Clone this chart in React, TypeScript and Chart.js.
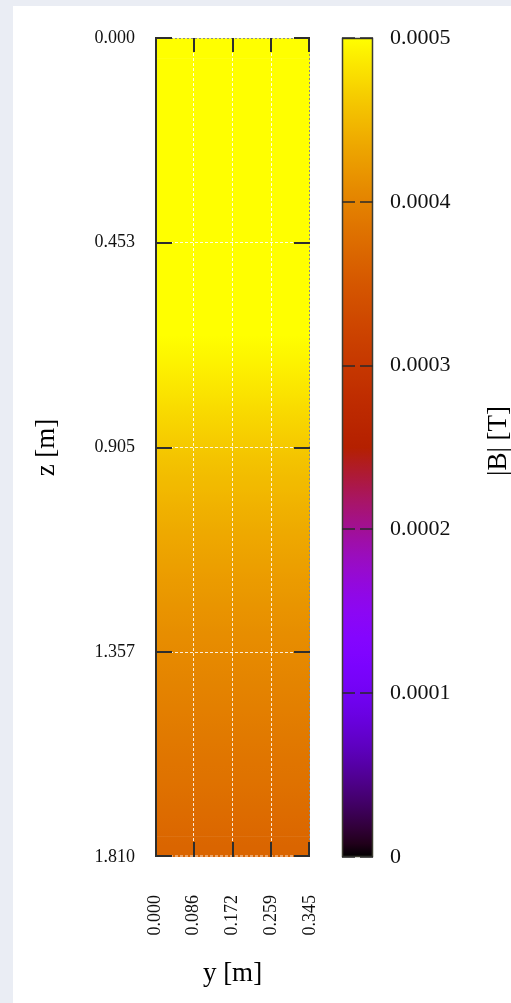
import { useEffect, useRef } from "react";
import { Chart, registerables } from "chart.js";

Chart.register(...registerables);

// ---- data ----
const zMax = 1.81;
const zTickValues = [0, 0.4525, 0.905, 1.3575, 1.81];
const zTickLabels = ["0.000", "0.453", "0.905", "1.357", "1.810"];
const yTickValues = [0, 0.08625, 0.1725, 0.25875, 0.345];
const yTickLabels = ["0.000", "0.086", "0.172", "0.259", "0.345"];
const cbTickValues = [0, 0.0001, 0.0002, 0.0003, 0.0004, 0.0005];
const cbTickLabels = ["0", "0.0001", "0.0002", "0.0003", "0.0004", "0.0005"];
const cbMax = 0.0005;
// |B| per z-row (top to bottom)
const fieldByRow = [
  0.00062, 0.00061, 0.0006, 0.00059, 0.00058, 0.00057, 0.00056, 0.00055,
  0.00054, 0.00053, 0.00052, 0.000515, 0.00051, 0.000505, 0.0005, 0.000494,
  0.000487, 0.00048, 0.000472, 0.000465, 0.000458, 0.000452, 0.000446, 0.00044,
  0.000434, 0.000429, 0.000424, 0.000419, 0.000414, 0.000409, 0.000405,
  0.000401, 0.000397, 0.000393, 0.000389, 0.000385, 0.000381, 0.000377,
  0.000372, 0.000367,
];

const FONT = "'Liberation Serif', 'Times New Roman', serif";
const NCOLS = yTickValues.length - 1;

// gnuplot default palette (rgbformulae 7,5,15)
function palette(t: number): string {
  const x = Math.min(1, Math.max(0, t));
  const r = Math.sqrt(x);
  const g = x * x * x;
  const b = Math.max(0, Math.sin(2 * Math.PI * x));
  return `rgb(${Math.round(r * 255)},${Math.round(g * 255)},${Math.round(b * 255)})`;
}

function line(ctx: CanvasRenderingContext2D, x1: number, y1: number, x2: number, y2: number) {
  ctx.beginPath();
  ctx.moveTo(x1, y1);
  ctx.lineTo(x2, y2);
  ctx.stroke();
}

const framePlugin = {
  id: "frame",
  afterDraw(chart: any) {
    const { ctx, chartArea: a, scales } = chart;
    const x = scales.x;
    const y = scales.y;
    ctx.save();
    ctx.lineWidth = 1;
    ctx.setLineDash([2, 2]);
    ctx.strokeStyle = "#8a8a8a";
    line(ctx, a.left, a.top + 0.5, a.right, a.top + 0.5);
    line(ctx, a.right - 0.5, a.top, a.right - 0.5, a.bottom);
    ctx.setLineDash([3, 2]);
    ctx.strokeStyle = "rgba(255,255,255,0.85)";
    line(ctx, a.left, a.bottom - 1, a.right, a.bottom - 1);
    ctx.setLineDash([]);
    ctx.strokeStyle = "#2e2e2e";
    ctx.lineWidth = 2;
    line(ctx, a.left + 1, a.top, a.left + 1, a.bottom);
    for (const v of zTickValues) {
      const py = Math.round(y.getPixelForValue(v)) - (v === zMax ? 1 : 0);
      line(ctx, a.left, py, a.left + 17, py);
      line(ctx, a.right - 16, py, a.right, py);
    }
    for (const v of yTickValues) {
      const px = Math.round(x.getPixelForValue(v)) + (v === 0 ? 1 : 0) - (v === 0.345 ? 1 : 0);
      line(ctx, px, a.top, px, a.top + 14);
      line(ctx, px, a.bottom - 15, px, a.bottom);
    }
    ctx.restore();
  },
};

const cbPlugin = {
  id: "cbframe",
  afterDraw(chart: any) {
    const { ctx, chartArea: a, scales } = chart;
    const y = scales.y;
    ctx.save();
    ctx.strokeStyle = "#3c3c30";
    ctx.lineWidth = 1.5;
    ctx.strokeRect(a.left + 0.5, a.top + 0.5, a.width - 1, a.height - 1);
    ctx.lineWidth = 1.5;
    ctx.strokeStyle = "#2a2a2a";
    for (const v of cbTickValues) {
      const py = Math.round(y.getPixelForValue(v));
      line(ctx, a.left, py, a.left + 13, py);
      line(ctx, a.right - 13, py, a.right, py);
    }
    ctx.translate(199, 441);
    ctx.rotate(-Math.PI / 2);
    ctx.font = `27px ${FONT}`;
    ctx.fillStyle = "#000";
    ctx.textAlign = "center";
    ctx.textBaseline = "middle";
    ctx.fillText("|B| [T]", 0, 0);
    ctx.restore();
  },
};

function zeroPad(s: any) {
  s.paddingLeft = 0;
  s.paddingRight = 0;
  s.paddingTop = 0;
  s.paddingBottom = 0;
}

function mainConfig(): any {
  const zStep = zMax / fieldByRow.length;
  const cells: any[] = [];
  fieldByRow.forEach((_v, r) => {
    for (let c = 0; c < NCOLS; c++) {
      cells.push({ x: (yTickValues[c] + yTickValues[c + 1]) / 2, y: [r * zStep, (r + 1) * zStep] });
    }
  });
  // smooth shading inside each row (gnuplot pm3d-like), colours from the row values
  const cellColor = (ctx: any) => {
    const chart = ctx.chart;
    const ys = chart.scales.y;
    const r = Math.floor(ctx.dataIndex / NCOLS);
    const v = fieldByRow[r];
    if (!ys || !chart.chartArea) return palette(v / cbMax);
    const prev = r > 0 ? (fieldByRow[r - 1] + v) / 2 : v;
    const next = r < fieldByRow.length - 1 ? (fieldByRow[r + 1] + v) / 2 : v;
    const p0 = ys.getPixelForValue(r * zStep);
    const p1 = ys.getPixelForValue((r + 1) * zStep);
    const g = chart.ctx.createLinearGradient(0, p0, 0, p1);
    g.addColorStop(0, palette(prev / cbMax));
    g.addColorStop(0.5, palette(v / cbMax));
    g.addColorStop(1, palette(next / cbMax));
    return g;
  };
  const gridColor = (ctx: any) =>
    ctx.index === 0 || ctx.index === 4 ? "rgba(0,0,0,0)" : "rgba(255,255,255,0.85)";
  return {
    type: "bar",
    data: {
      datasets: [
        {
          data: cells,
          backgroundColor: cellColor,
          borderWidth: 0,
          barPercentage: 1,
          categoryPercentage: 1,
          grouped: false,
        },
      ],
    },
    options: {
      animation: false,
      responsive: false,
      maintainAspectRatio: false,
      events: [],
      layout: { padding: { top: 38, right: 20, left: 0, bottom: 0 } },
      plugins: { legend: { display: false }, tooltip: { enabled: false } },
      scales: {
        x: {
          type: "linear",
          min: 0,
          max: 0.345,
          offset: false,
          afterBuildTicks: (s: any) => {
            s.ticks = yTickValues.map((v) => ({ value: v }));
          },
          afterFit: (s: any) => {
            s.height = 146;
            zeroPad(s);
          },
          ticks: {
            autoSkip: false,
            minRotation: 90,
            maxRotation: 90,
            padding: 38,
            color: "#111",
            font: { family: FONT, size: 18 },
            callback: (_v: any, i: number) => yTickLabels[i],
          },
          grid: { offset: false, color: gridColor, drawTicks: false, lineWidth: 1, z: 1 },
          border: { display: false, dash: [3, 2] },
          title: {
            display: true,
            text: "y [m]",
            color: "#000",
            font: { family: FONT, size: 27 },
            padding: { top: 0, bottom: 13 },
          },
        },
        y: {
          type: "linear",
          reverse: true,
          min: 0,
          max: zMax,
          afterBuildTicks: (s: any) => {
            s.ticks = zTickValues.map((v) => ({ value: v }));
          },
          afterFit: (s: any) => {
            s.width = 155;
            zeroPad(s);
          },
          ticks: {
            autoSkip: false,
            padding: 20,
            color: "#111",
            font: { family: FONT, size: 18 },
            callback: (_v: any, i: number) => zTickLabels[i],
          },
          grid: { color: gridColor, drawTicks: false, lineWidth: 1, z: 1 },
          border: { display: false, dash: [3, 2] },
          title: {
            display: true,
            text: "z [m]",
            color: "#000",
            font: { family: FONT, size: 27 },
            padding: { top: 31, bottom: 0 },
          },
        },
      },
    },
    plugins: [framePlugin],
  };
}

function cbConfig(): any {
  return {
    type: "bar",
    data: {
      labels: ["|B|"],
      datasets: [
        {
          data: [[0, cbMax]],
          borderWidth: 0,
          barPercentage: 1,
          categoryPercentage: 1,
          backgroundColor: (ctx: any) => {
            const area = ctx.chart.chartArea;
            if (!area) return "#000";
            const g = ctx.chart.ctx.createLinearGradient(0, area.bottom, 0, area.top);
            for (let i = 0; i <= 60; i++) g.addColorStop(i / 60, palette(i / 60));
            return g;
          },
        },
      ],
    },
    options: {
      animation: false,
      responsive: false,
      maintainAspectRatio: false,
      events: [],
      layout: { padding: { left: 42, top: 38, bottom: 146, right: 0 } },
      plugins: { legend: { display: false }, tooltip: { enabled: false } },
      scales: {
        x: { display: false },
        y: {
          position: "right",
          min: 0,
          max: cbMax,
          afterBuildTicks: (s: any) => {
            s.ticks = cbTickValues.map((v) => ({ value: v }));
          },
          afterFit: (s: any) => {
            s.width = 138;
            zeroPad(s);
          },
          ticks: {
            autoSkip: false,
            padding: 17,
            color: "#111",
            font: { family: FONT, size: 22 },
            callback: (_v: any, i: number) => cbTickLabels[i],
          },
          grid: { display: false, drawTicks: false },
          border: { display: false },
        },
      },
    },
    plugins: [cbPlugin],
  };
}

export default function App() {
  const mainRef = useRef<HTMLCanvasElement>(null);
  const cbRef = useRef<HTMLCanvasElement>(null);
  useEffect(() => {
    const c1 = new Chart(mainRef.current as HTMLCanvasElement, mainConfig());
    const c2 = new Chart(cbRef.current as HTMLCanvasElement, cbConfig());
    return () => {
      c1.destroy();
      c2.destroy();
    };
  }, []);
  return (
    <div
      style={{
        position: "fixed",
        left: 0,
        top: 0,
        width: 511,
        height: 1003,
        background: "#eaedf4",
        overflow: "hidden",
      }}
    >
      <div style={{ position: "absolute", left: 13, top: 6, right: 0, bottom: 0, background: "#fff" }} />
      <canvas ref={mainRef} width={330} height={1003} style={{ position: "absolute", left: 0, top: 0 }} />
      <canvas ref={cbRef} width={211} height={1003} style={{ position: "absolute", left: 300, top: 0 }} />
    </div>
  );
}
